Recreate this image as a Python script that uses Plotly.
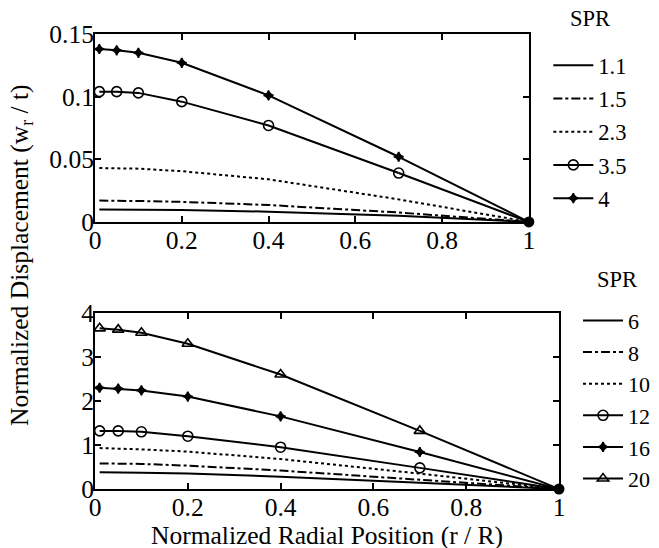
import plotly.graph_objects as go
from plotly.subplots import make_subplots

# radial positions r/R
r_pos = [0.01, 0.05, 0.1, 0.2, 0.4, 0.7, 1.0]

# top panel: SPR 1.1 .. 4
spr_top = ["1.1", "1.5", "2.3", "3.5", "4"]
w_top = [
    [0.010, 0.010, 0.0098, 0.0095, 0.0082, 0.0050, 0.0],
    [0.017, 0.017, 0.0167, 0.0160, 0.0135, 0.0075, 0.0],
    [0.043, 0.043, 0.0425, 0.0405, 0.0340, 0.0180, 0.0],
    [0.104, 0.104, 0.103, 0.096, 0.077, 0.039, 0.0],
    [0.138, 0.137, 0.135, 0.127, 0.101, 0.052, 0.0],
]

# bottom panel: SPR 6 .. 20
spr_bot = ["6", "8", "10", "12", "16", "20"]
w_bot = [
    [0.38, 0.38, 0.37, 0.35, 0.28, 0.14, 0.0],
    [0.58, 0.58, 0.57, 0.53, 0.42, 0.21, 0.0],
    [0.93, 0.92, 0.90, 0.85, 0.68, 0.35, 0.0],
    [1.32, 1.32, 1.30, 1.20, 0.95, 0.48, 0.0],
    [2.30, 2.28, 2.24, 2.10, 1.65, 0.84, 0.0],
    [3.65, 3.62, 3.55, 3.30, 2.60, 1.32, 0.0],
]

top_styles = [("solid", None), ("dashdot", None), ("dot", None),
              ("solid", "circle-open"), ("solid", "star-diamond")]
bot_styles = [("solid", None), ("dashdot", None), ("dot", None),
              ("solid", "circle-open"), ("solid", "star-diamond"),
              ("solid", "triangle-up-open")]

FONT = "Liberation Serif"
FS = 25.5
LFS = 22.5

fig = make_subplots(rows=2, cols=1)


def add_series(names, values, styles, row, legend):
    for i, (name, y) in enumerate(zip(names, values)):
        dash, sym = styles[i]
        mode = "lines+markers" if sym else "lines"
        marker = None
        if sym:
            marker = dict(symbol=sym, size=7 if "star" in sym else 10,
                          color="black", line=dict(width=1.6, color="black"))
        fig.add_trace(go.Scatter(x=r_pos[:-1] if sym else r_pos, y=y[:-1] if sym else y,
                                 mode=mode, name=name,
                                 line=dict(color="black", width=2, dash=dash),
                                 marker=marker, legend=legend, legendgroup=legend + name),
                      row=row, col=1)
        if sym:
            # last segment to the clamped edge
            fig.add_trace(go.Scatter(x=r_pos[-2:], y=y[-2:], mode="lines",
                                     line=dict(color="black", width=2),
                                     showlegend=False, hoverinfo="skip"),
                          row=row, col=1)
    # shared end point at the edge
    fig.add_trace(go.Scatter(x=[r_pos[-1]], y=[values[0][-1]], mode="markers",
                             marker=dict(symbol="circle", size=11, color="black"),
                             cliponaxis=False, showlegend=False, hoverinfo="skip"),
                  row=row, col=1)


add_series(spr_top, w_top, top_styles, 1, "legend")
add_series(spr_bot, w_bot, bot_styles, 2, "legend2")

axis_common = dict(showline=True, linecolor="black", linewidth=2, mirror="ticks",
                   ticks="inside", ticklen=6, tickwidth=1.5, tickcolor="black",
                   showgrid=False, zeroline=False,
                   tickfont=dict(family=FONT, size=FS, color="black"))

fig.update_xaxes(axis_common, ticklabelstandoff=-6)
fig.update_yaxes(axis_common, ticklabelstandoff=-6)

x_ticks = [0, 0.2, 0.4, 0.6, 0.8, 1]
x_text = ["0", "0.2", "0.4", "0.6", "0.8", "1"]

fig.update_layout(
    width=659, height=548,
    margin=dict(l=87, r=108, t=26, b=67),
    plot_bgcolor="white", paper_bgcolor="white",
    font=dict(family=FONT, size=FS, color="black"),
    xaxis=dict(domain=[0, 0.935], range=[0, 1], tickvals=x_ticks, ticktext=x_text, anchor="y"),
    yaxis=dict(domain=[0.587, 1], range=[0, 0.15], tickvals=[0, 0.05, 0.1, 0.15],
               ticktext=["0", "0.05", "0.1", "0.15"]),
    xaxis2=dict(domain=[0, 1], range=[0, 1], tickvals=x_ticks, ticktext=x_text),
    yaxis2=dict(domain=[0, 0.387], range=[0, 4], tickvals=[0, 1, 2, 3, 4]),
    legend=dict(x=0.977, y=0.978, xanchor="left", yanchor="top", bgcolor="rgba(0,0,0,0)",
                font=dict(family=FONT, size=LFS), tracegroupgap=1, itemwidth=40),
    legend2=dict(x=1.041, y=0.416, xanchor="left", yanchor="top", bgcolor="rgba(0,0,0,0)",
                 font=dict(family=FONT, size=22), tracegroupgap=0, itemwidth=40),
    annotations=[
        dict(text="SPR", xref="paper", yref="paper", x=(590 - 95) / 464, y=(489 - 19) / 455,
             xanchor="center", yanchor="middle", showarrow=False,
             font=dict(family=FONT, size=LFS)),
        dict(text="SPR", xref="paper", yref="paper", x=(617 - 95) / 464, y=(489 - 279) / 455,
             xanchor="center", yanchor="middle", showarrow=False,
             font=dict(family=FONT, size=LFS)),
        dict(text="Normalized Displacement (w<sub>r</sub> / t)", xref="paper", yref="paper",
             x=(21 - 95) / 464, y=(489 - 255) / 455, textangle=-90, showarrow=False,
             xanchor="center", yanchor="middle", font=dict(family=FONT, size=FS)),
        dict(text="Normalized Radial Position (r / R)", xref="paper", yref="paper",
             x=0.5, y=(489 - 535) / 455, showarrow=False,
             xanchor="center", yanchor="middle", font=dict(family=FONT, size=FS)),
    ],
)

fig.write_html("out.html")
